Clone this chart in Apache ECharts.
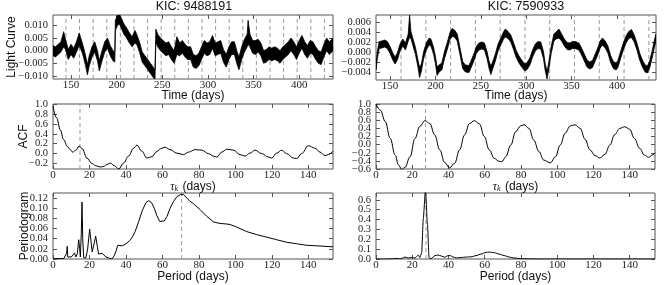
<!DOCTYPE html>
<html><head><meta charset="utf-8">
<script src="https://cdn.jsdelivr.net/npm/echarts@6/dist/echarts.min.js"></script>
<style>html,body{margin:0;padding:0;background:#fff}#c{width:664px;height:285px}</style>
</head><body><div id="c"></div>
<script>
// ---------- DATA ----------
const titles = ['KIC: 9488191', 'KIC: 7590933'];

// Light curve, star A (KIC 9488191): time (days), lower / upper edge of noisy band (units of 1e-3)
const lcTimeA = [130.5,133,136,139,142,144,147,150,153,156,159,162,164,166,168,170,173,176,179,181,184,187,190,193,196,198,198.6,201,203,205,208,211,214,217,220,222,225,228,231,234,237,240,242,243,245,248,251,254,257,260,263,266,269,272,275,278,281,284,287,290,293,296,299,302,305,308,311,314,317,320,323,326,329,332,334,337,340,343,344,346,349,352,355,358,361,364,367,370,373,376,379,382,385,388,391,394,397,400,403,406,409,412,415,418,421,424,427,430,433,437];
const lcLoA = [-2,-2.5,-1.5,-0.5,1.5,0.5,-3.5,-1.5,-3,-0.5,2,-0.5,-3,-6,-9.5,-6,-2.5,-0.5,-4,-8,-4,-0.5,1,-2,-4,-4.5,8,10,10.5,9,6.5,5,3,1.5,3,2.5,-0.5,-4.5,-6,-7.5,-9,-10.5,-11.5,3.5,1.5,0,-1,-2,-1.5,-3.5,-5,-1.5,-2,-1,-2.5,-3.5,-3.5,-6.5,-7,-6,-3.5,-1,-2,-1.5,1,-2,-1.5,-1,-4.5,-6.5,-3.5,-1.5,-1.5,-5.5,-7.5,-3.5,-0.5,1.5,2.5,1.5,-1,-1.5,-0.5,-2,-5,-4.5,-3.5,-4,-3.5,-4,-5,-3.5,-2.5,-1.5,0,-1.5,-3.5,-1,1,-1.5,-3,-1,-1.5,-3.5,-5,-5.5,-2.5,0,-1.5,0];
const lcHiA = [2,1.5,2.5,3.5,7.5,4.5,0.5,2.5,1,3.5,7,3.5,1,-2,-5.5,-2,1.5,3.5,0,-4,0,3.5,5,2,0,-0.5,12,14,14.5,13,10.5,9,7,5.5,8,6.5,3.5,-0.5,-2,-3.5,-5,-6.5,-7.5,8.5,6.5,5,4,3,3.5,1.5,0,5.5,3,4,2.5,1.5,1.5,-1.5,-2,-1,1.5,4,3,3.5,6,3,3.5,4,0.5,-1.5,1.5,3.5,3.5,-0.5,-2.5,1.5,4.5,6.5,12,6.5,4,4,4.5,3,0,0.5,1.5,1,1.5,1,0,1.5,2.5,3.5,5,3.5,1.5,4,6,3.5,2,4,3.5,1.5,0,-0.5,2.5,5,3.5,5];

// Light curve, star B (KIC 7590933)
const lcTimeB = [134.5,136,138,141,144,147,150,153,155.5,158,161,164,167,170,171.5,173,175,178,180.5,182.5,184.5,187,190,193,195,198,200,201.8,204,207,210,213,216,218.5,221,224,227,230,233,237,240,242.5,245,248,251,254,257,259,261,263,266,269,272,275,277,280,283,286,289,292,295,298.5,301,304,307,310,313,316,319,321,323,325,327.5,330.5,333,336,339,342,345,348,351,354,358,361,364,367,370,373,376,379,381.5,384,387,390,393,396,399,401,404,407,410,413,416,419,422,425,428,431,433.5,436,439,441,443];
const lcLoB = [-3.5,-1.2,0.8,0.9,1.1,0.8,-0.2,-1.5,-2.3,-1.5,0.3,1.3,0.5,2.3,3.0,2.8,1.5,-0.4,-2.7,-5.0,-3.7,-1.2,0.5,1.5,1.3,-0.4,-2.2,-4.6,-3.9,-3.5,-1.2,0.6,2.6,3.2,3.1,2.3,-0.4,-3.2,-3.9,-4.0,-2.7,-1.6,-0.2,0.5,0.7,0.5,-1.3,-3.1,-4.4,-3.3,-1.7,0.3,1.5,2.7,3.1,2.8,2.1,0.6,-1.0,-2.1,-2.9,-3.7,-3.4,-2.5,-0.9,0.3,0.8,0.7,-1.2,-3.7,-5.3,-3.2,-0.2,2.3,2.7,2.9,2.3,1.3,0.6,0.5,0.8,0.8,0.5,-0.5,-1.7,-2.9,-3.3,-3.0,-1.7,-0.4,0.9,1.5,0.9,-0.1,-2.0,-3.2,-3.5,-3.0,-1.2,0.5,1.9,2.8,3.0,2.1,0.5,-1.5,-2.9,-3.9,-4.1,-3.1,-0.9,0.9,2.3];
const lcHiB = [-2.1,0.2,2.2,2.3,2.5,2.2,1.2,-0.1,-0.9,-0.1,1.7,2.7,1.9,3.7,7.5,4.2,2.9,1.0,-1.3,-3.0,-2.3,0.2,1.9,2.9,2.7,1.0,-0.8,-2.9,-2.5,-2.1,0.2,2.0,4.0,4.8,4.5,3.7,1.0,-1.8,-2.5,-2.6,-1.3,-0.2,1.2,1.9,2.1,1.9,0.1,-1.7,-2.7,-1.9,-0.3,1.7,2.9,4.1,4.7,4.2,3.5,2.0,0.4,-0.7,-1.5,-2.3,-2.0,-1.1,0.5,1.7,2.2,2.1,0.2,-2.3,-3.8,-1.8,1.2,3.7,4.1,4.7,3.7,2.7,2.0,1.9,2.2,2.2,1.9,0.9,-0.3,-1.5,-1.9,-1.6,-0.3,1.0,2.3,2.9,2.3,1.3,-0.6,-1.8,-2.1,-1.6,0.2,1.9,3.3,4.2,4.6,3.5,1.9,-0.1,-1.5,-2.5,-2.7,-1.7,0.5,2.3,3.7];

// Rotation period marks (days)
const lcMarksA = [144.5,159.4,174.3,189.2,204.1,219.0,233.9,248.8,263.7,278.6,293.5,308.4,323.3,338.2,353.1,368.0,382.9,397.8,412.7,427.6];
const lcMarksB = [162.1,189.4,216.7,244.0,271.3,298.6,325.9,353.2,380.5,407.8,435.1];
const acfMarkA = [14.8];
const acfMarkB = [27.3];
const pgMarkA = [70.5];
const pgMarkB = [27.6];

// ACF
const acfLagA = [0,2,4,5.8,8,9.5,10.8,12.5,14.4,16,18.6,21.4,23.2,25.9,27.7,29.5,31.4,33.5,36,38.7,41.4,44.2,46,48.7,51.5,54.2,56.9,59,61.5,64.2,67.9,71.5,74.3,77.9,81.6,85.2,88,89.8,92.5,95.3,98.9,102.6,105.3,108,110.8,114.4,118.1,119.9,122.6,125.4,128.1,131.8,133.6,136.3,140,143.6,146.4,149.1,150.9,153.5];
const acfValA = [0.95,0.72,0.48,0.28,0.14,0.08,0.03,0.07,0.15,0.1,-0.09,-0.2,-0.24,-0.27,-0.26,-0.22,-0.19,-0.24,-0.31,-0.19,-0.05,0.11,0.17,0.05,-0.09,-0.06,0.04,0.1,0.13,0.08,0.01,-0.02,0.03,0.08,0.07,0.0,-0.05,-0.07,0.03,0.09,0.07,-0.02,-0.05,0.01,0.07,0.0,-0.07,-0.09,0.01,0.07,0.0,-0.09,-0.1,0.0,0.16,0.11,0.03,-0.04,-0.02,0.05];
const acfLagB = [0,2.4,5.1,7.8,10.6,12.4,14.2,16,18.8,21.5,24.2,27,29.7,32.4,35.2,37.9,40.6,43.4,46.1,48.9,51.6,54.3,57.1,59.8,62.5,65.3,68,69.5,71.6,74.4,77.1,79.8,81.7,84.4,87.1,89.9,92.6,96.2,99,101.7,104.4,107.2,109.9,112.7,115.4,118.1,120.9,123.6,126.3,129.1,131.8,134.5,137.3,140,142.7,145.5,148.2,150.5,152.8,154];
const acfValB = [1.0,0.85,0.57,0.16,-0.26,-0.5,-0.61,-0.56,-0.3,0.15,0.45,0.59,0.52,0.24,-0.13,-0.44,-0.57,-0.46,-0.13,0.24,0.52,0.59,0.51,0.2,-0.13,-0.34,-0.41,-0.42,-0.3,-0.01,0.32,0.46,0.49,0.4,0.11,-0.17,-0.38,-0.45,-0.3,-0.01,0.28,0.46,0.49,0.4,0.13,-0.13,-0.27,-0.33,-0.24,-0.01,0.25,0.4,0.44,0.38,0.15,-0.09,-0.26,-0.31,-0.25,-0.2];

// Periodogram
const pgPerA = [0,2,4,5,6,7,7.5,7.8,8.1,9,10,11,11.8,12.5,13.3,14.1,14.6,15,15.5,15.9,16.3,16.8,18,19,20.1,21,21.5,22.5,23.4,24.3,25,26,27,28,29,30.5,32.3,33.5,34.5,35.5,36.5,38,40,42,43.5,45,47,49,51,52.5,54,55.5,57,58.5,59.5,61,62.5,64.2,66,68,70,71.5,73.4,75,77,80.7,84.3,88,91.6,95,97,100.7,106.2,111.7,117.2,122.6,128.1,133.6,139.1,144.5,153.5];
const pgPowA = [0,0.001,0.001,0.002,0.001,0.003,0.012,0.025,0.004,0.002,0.004,0.008,0.012,0.004,0.01,0.038,0.02,0.004,0.05,0.112,0.04,0.003,0.002,0.02,0.059,0.03,0.014,0.03,0.045,0.025,0.01,0.008,0.011,0.008,0.004,0.002,0,0.006,0.015,0.027,0.029,0.026,0.03,0.036,0.043,0.054,0.074,0.096,0.111,0.115,0.111,0.1,0.085,0.074,0.071,0.075,0.084,0.1,0.113,0.123,0.127,0.127,0.12,0.114,0.109,0.097,0.084,0.073,0.07,0.069,0.068,0.063,0.054,0.048,0.043,0.038,0.033,0.03,0.027,0.026,0.024];
const pgPerB = [0,6,9.7,11.5,13,14.2,16,17.9,19.7,21.5,23.3,24.2,25.2,26.1,27.3,28.4,29.3,30.6,32.4,34.3,36.1,37.9,39.7,41,42.5,44.3,47,49.8,52.5,55.2,58,60.7,62.5,65.3,68,70.7,73.5,76.2,79.8,84.4,90,154];
const pgPowB = [0,0,0.003,0.006,0.004,0.006,0.02,0.01,0.016,0.01,0.04,0.015,0.06,0.41,0.7,0.35,0.01,0.005,0.034,0.04,0.03,0.018,0.034,0.035,0.02,0.012,0.015,0.02,0.022,0.034,0.05,0.067,0.07,0.064,0.05,0.035,0.02,0.01,0.004,0.001,0,0];

// Tick labels
const timeTicks = [150,200,250,300,350,400];
const lcYTicksA = [-0.010,-0.005,0,0.005,0.010];
const lcYTicksB = [-0.004,-0.002,0,0.002,0.004,0.006];
const lagTicks = [0,20,40,60,80,100,120,140];
const acfYTicksA = [-0.2,0,0.2,0.4,0.6,0.8,1.0];
const acfYTicksB = [-0.6,-0.4,-0.2,0,0.2,0.4,0.6,0.8,1.0];
const pgYTicksA = [0,0.02,0.04,0.06,0.08,0.10,0.12];
const pgYTicksB = [0,0.1,0.2,0.3,0.4,0.5,0.6];

// ---------- CHART ----------
const FRAME = '#555';
const SERIF = '"Liberation Serif","DejaVu Serif",serif';
const SANS = '"Liberation Sans","DejaVu Sans",Arial,sans-serif';

const panels = [
  {g:{left:53,top:15,width:280,height:64}, xr:[130.3,437], yr:[-0.0112,0.0141], xt:timeTicks, yt:lcYTicksA, dec:3, xName:'Time (days)', xGap:11, yName:'Light Curve', yGap:35},
  {g:{left:376,top:15,width:280,height:65}, xr:[134.5,443], yr:[-0.0055,0.0075], xt:timeTicks, yt:lcYTicksB, dec:3, xName:'Time (days)', xGap:10},
  {g:{left:53,top:104,width:280,height:65}, xr:[0,153.5], yr:[-0.31,1.0], xt:lagTicks, yt:acfYTicksA, dec:1, xName:'tau', xGap:11, yName:'ACF', yGap:23},
  {g:{left:376,top:104,width:279,height:65}, xr:[0,154], yr:[-0.6,1.0], xt:lagTicks, yt:acfYTicksB, dec:1, xName:'tau', xGap:11},
  {g:{left:53,top:193,width:280,height:66}, xr:[0,153.5], yr:[0,0.13], xt:lagTicks, yt:pgYTicksA, dec:2, xName:'Period (days)', xGap:12, yName:'Periodogram', yGap:22},
  {g:{left:376,top:193,width:279,height:66}, xr:[0,154], yr:[0,0.67], xt:lagTicks, yt:pgYTicksB, dec:1, xName:'Period (days)', xGap:12},
];

const grid = [], xAxis = [], yAxis = [];
const nameStyle = {fontFamily:SANS, fontSize:12, color:'#111',
  rich:{t:{fontFamily:SERIF, fontStyle:'italic', fontSize:12, color:'#111'},
        s:{fontFamily:SERIF, fontStyle:'italic', fontSize:8, color:'#111', padding:[5,1,0,0]},
        n:{fontFamily:SANS, fontSize:12, color:'#111'}}};
function fmtY(dec){ return v => (v < -1e-12 ? '\u2212' : '') + Math.abs(v).toFixed(dec); }

panels.forEach((p, i) => {
  grid.push(Object.assign({show:true, borderColor:FRAME, borderWidth:1, backgroundColor:'#fff'}, p.g));
  const tick = vals => ({show:true, inside:true, length:4, lineStyle:{color:FRAME, width:1}, customValues:vals});
  const line = {show:false, onZero:false};
  const ylab = vals => ({customValues:vals, showMinLabel:true, showMaxLabel:true, hideOverlap:false,
      fontFamily:SERIF, fontSize:10.5, color:'#222', margin:5, formatter:fmtY(p.dec)});
  xAxis.push({type:'value', gridIndex:i, min:p.xr[0], max:p.xr[1], position:'bottom',
    axisLine:line, splitLine:{show:false}, axisTick:tick(p.xt),
    axisLabel:{customValues:p.xt, showMinLabel:true, showMaxLabel:true, hideOverlap:false,
      fontFamily:SERIF, fontSize:11, color:'#222', margin:1, formatter:v=>String(Math.round(v))},
    name: p.xName === 'tau' ? '{t|\u03c4}{s|k}{n| (days)}' : p.xName,
    nameLocation:'middle', nameGap:p.xGap, nameMoveOverlap:false, nameTextStyle:nameStyle});
  xAxis.push({type:'value', gridIndex:i, min:p.xr[0], max:p.xr[1], position:'top',
    axisLine:line, splitLine:{show:false}, axisTick:tick(p.xt), axisLabel:{show:false}});
  // left axis: ticks + every other label; second left axis carries the remaining labels
  const even = p.yt.filter((v,k)=>k%2===0), odd = p.yt.filter((v,k)=>k%2===1);
  const ya = {type:'value', gridIndex:i, min:p.yr[0], max:p.yr[1], position:'left',
    axisLine:line, splitLine:{show:false}, axisTick:tick(p.yt), axisLabel:ylab(even)};
  if (p.yName) Object.assign(ya, {name:p.yName, nameLocation:'middle', nameGap:p.yGap, nameMoveOverlap:false, nameTextStyle:{fontFamily:SANS, fontSize:12, color:'#111'}});
  yAxis.push(ya);
  yAxis.push({type:'value', gridIndex:i, min:p.yr[0], max:p.yr[1], position:'left', offset:0,
    axisLine:line, splitLine:{show:false}, axisTick:{show:false}, axisLabel:ylab(odd)});
  yAxis.push({type:'value', gridIndex:i, min:p.yr[0], max:p.yr[1], position:'right',
    axisLine:line, splitLine:{show:false}, axisTick:tick(p.yt), axisLabel:{show:false}});
});

function clipRect(params){
  const c = params.coordSys;
  return {type:'rect', shape:{x:c.x, y:c.y, width:c.width, height:c.height}};
}
// dashed vertical period marks, positioned through the axes
function markSeries(i, arr){
  const yr = panels[i].yr;
  return {type:'custom', xAxisIndex:2*i, yAxisIndex:3*i, z:1, silent:true,
    data:arr.map(v=>[v]),
    renderItem:(params, api) => {
      const a = api.coord([api.value(0), yr[0]]), b = api.coord([api.value(0), yr[1]]);
      return {type:'line', shape:{x1:a[0], y1:a[1], x2:b[0], y2:b[1]},
        style:{stroke:'#9a9a9a', lineWidth:1, lineDash:[4,3]}};
    }};
}
// noisy light-curve band, polygon from lower/upper edges
function bandSeries(i, t, lo, hi){
  return {type:'custom', xAxisIndex:2*i, yAxisIndex:3*i, z:3, silent:true, data:[[t[0]]],
    renderItem:(params, api) => {
      const up = t.map((x,k)=>api.coord([x, hi[k]*1e-3]));
      const dn = t.map((x,k)=>api.coord([x, lo[k]*1e-3])).reverse();
      return {type:'group', clipPath:clipRect(params), children:[
        {type:'polygon', shape:{points:up.concat(dn)}, style:{fill:'#000', stroke:'#000', lineWidth:0.8, lineJoin:'round'}}]};
    }};
}
function curve(i, x, y, smooth){
  return {type:'line', xAxisIndex:2*i, yAxisIndex:3*i, symbol:'none', z:3, silent:true,
    smooth:smooth, smoothMonotone:'x', lineStyle:{color:'#000', width:1},
    data:x.map((v,k)=>[v, y[k]])};
}

const series = [
  markSeries(0, lcMarksA), bandSeries(0, lcTimeA, lcLoA, lcHiA),
  markSeries(1, lcMarksB), bandSeries(1, lcTimeB, lcLoB, lcHiB),
  markSeries(2, acfMarkA), curve(2, acfLagA, acfValA, 0.4),
  markSeries(3, acfMarkB), curve(3, acfLagB, acfValB, 0.4),
  markSeries(4, pgMarkA), curve(4, pgPerA, pgPowA, 0),
  markSeries(5, pgMarkB), curve(5, pgPerB, pgPowB, 0.2)
];

const graphic = [
  {type:'text', style:{text:titles[0], x:194, y:7, textAlign:'center', textVerticalAlign:'middle', fontFamily:SANS, fontSize:12.5, fill:'#111'}},
  {type:'text', style:{text:titles[1], x:526, y:7, textAlign:'center', textVerticalAlign:'middle', fontFamily:SANS, fontSize:12.5, fill:'#111'}}
];

const chart = echarts.init(document.getElementById('c'), null, {renderer:'canvas'});
chart.setOption({animation:false, backgroundColor:'#fff', grid, xAxis, yAxis, series, graphic});
</script>
</body></html>
